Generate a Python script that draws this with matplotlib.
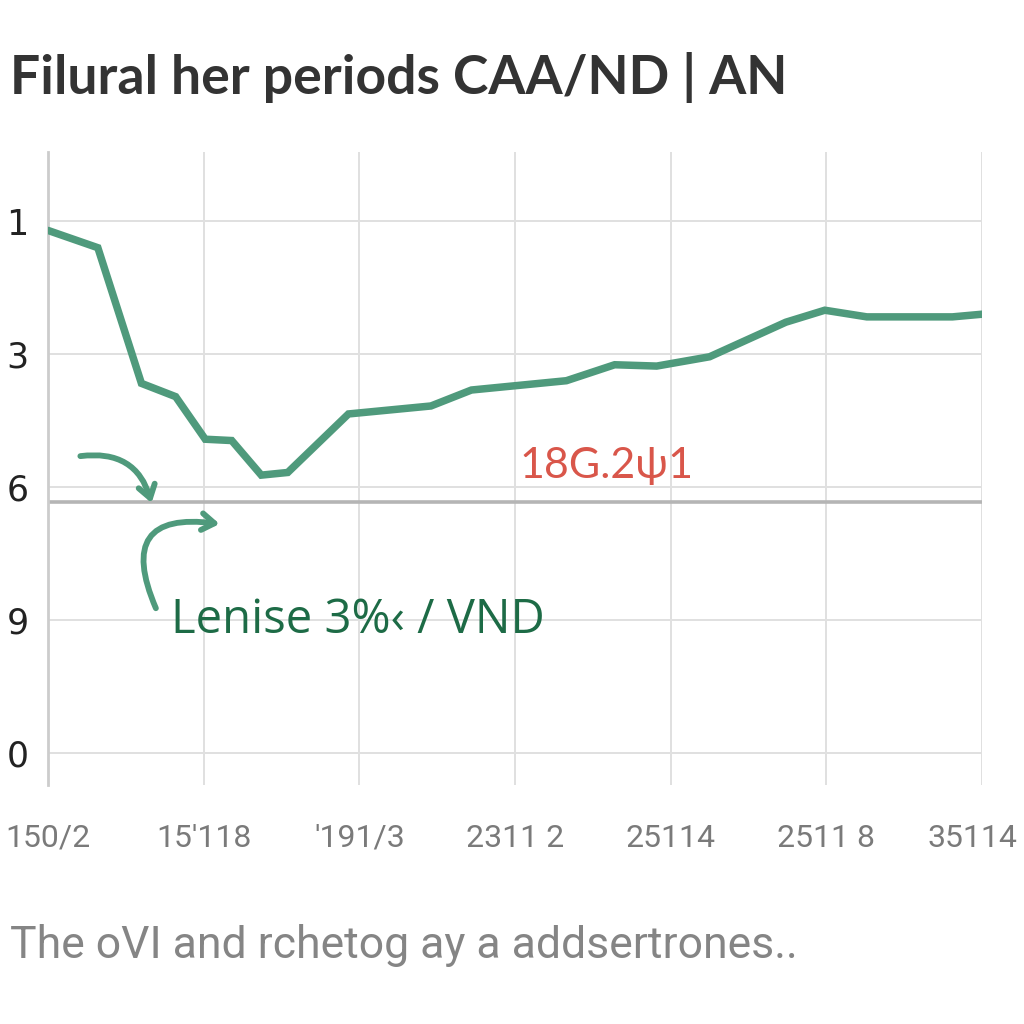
import matplotlib
matplotlib.use("Agg")
import matplotlib.pyplot as plt
import matplotlib.transforms as mtransforms
from matplotlib.patches import FancyArrowPatch

# data (positional y scale: 0 = "0" gridline at bottom, 4 = "1" gridline at top)
x_vals = [0.00, 0.32, 0.60, 0.82, 1.01, 1.18, 1.37, 1.54, 1.93, 2.46, 2.72,
          3.33, 3.64, 3.91, 4.25, 4.74, 4.99, 5.26, 5.81, 6.00]
y_vals = [3.93, 3.80, 2.78, 2.68, 2.36, 2.35, 2.09, 2.11, 2.55, 2.61, 2.73,
          2.80, 2.92, 2.91, 2.98, 3.24, 3.33, 3.28, 3.28, 3.30]
x_labels = ["150/2", "15'118", "'191/3", "2311 2", "25114", "2511 8", "35114"]
y_ticks = [0, 1, 2, 3, 4]
y_labels = ["0", "9", "6", "3", "1"]
ref_level = 1.89

title = "Filural her periods CAA/ND | AN"
caption = "The oVI and rchetog ay a addsertrones.."
red_note = "18G.2ψ1"
green_note = "Lenise 3%‹ / VND"

line_color = "#4f9a7c"
narrow = ["Roboto", "DejaVu Sans"]

fig = plt.figure(figsize=(10.24, 10.24), dpi=100)
fig.patch.set_facecolor("white")
ax = fig.add_axes([0.0469, 0.2334, 0.9121, 0.6182])

ax.set_xlim(0, 6)
ax.set_ylim(-0.24, 4.52)

ax.set_xticks(range(len(x_labels)))
ax.set_xticklabels(x_labels, fontsize=23, color="#7a7a7a", family=narrow)
ax.set_yticks(y_ticks)
ax.set_yticklabels(y_labels, fontsize=25, color="#222222", family="DejaVu Sans")
ax.tick_params(axis="both", length=0)
ax.tick_params(axis="x", pad=28)
ax.tick_params(axis="y", pad=14)

# nudge the last x label so it stays inside the picture
last = ax.get_xticklabels()[-1]
last.set_transform(last.get_transform() +
                   mtransforms.ScaledTranslation(-0.1, 0, fig.dpi_scale_trans))

ax.grid(True, color="#e0e0e0", linewidth=1.4)
ax.set_axisbelow(True)
for side in ["top", "right", "bottom"]:
    ax.spines[side].set_visible(False)
ax.spines["left"].set_color("#cccccc")
ax.spines["left"].set_linewidth(2)

# reference line
ax.plot([0, 6], [ref_level, ref_level], color="#b5b5b5", linewidth=2.6,
        solid_capstyle="butt", zorder=2)

# main series
ax.plot(x_vals, y_vals, color=line_color, linewidth=5.4,
        solid_joinstyle="miter", solid_capstyle="round", zorder=3)

# annotations
ax.text(3.03, 2.16, red_note, color="#d9564a", fontsize=31,
        family=["Lato", "DejaVu Sans"], va="center", ha="left")
ax.text(0.79, 1.00, green_note, color="#1d6b46", fontsize=34,
        family=["Open Sans", "DejaVu Sans"], va="center", ha="left")

arr1 = FancyArrowPatch((0.19, 2.23), (0.67, 1.86),
                       connectionstyle="arc3,rad=-0.45",
                       arrowstyle="->,head_length=9,head_width=6",
                       color=line_color, linewidth=4.2, zorder=4)
ax.add_patch(arr1)
arr2 = FancyArrowPatch((0.70, 1.07), (1.12, 1.72),
                       connectionstyle="arc3,rad=-0.9",
                       arrowstyle="->,head_length=9,head_width=6",
                       color=line_color, linewidth=4.2, zorder=4)
ax.add_patch(arr2)

fig.text(0.010, 0.924, title, fontsize=38.5, fontweight="bold", color="#333333",
         family=["Lato", "DejaVu Sans"], va="center", ha="left")
fig.text(0.010, 0.077, caption, fontsize=32, color="#858585",
         family=narrow, va="center", ha="left")

fig.savefig("out.png", dpi=100, facecolor="white")
